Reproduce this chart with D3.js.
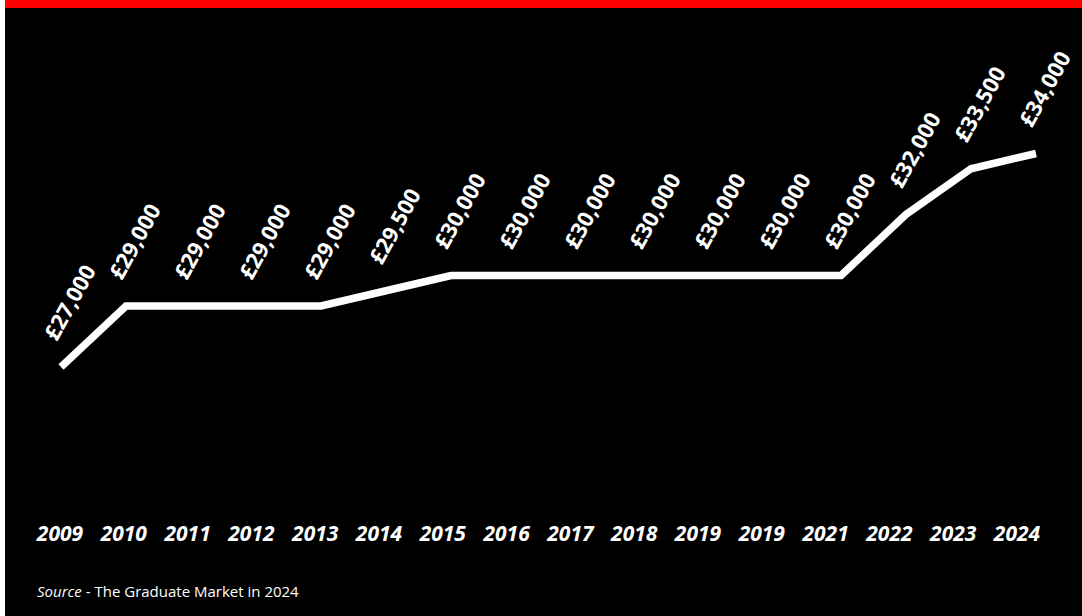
<!DOCTYPE html>
<html>
<head>
<meta charset="utf-8">
<script src="https://cdn.jsdelivr.net/npm/d3@7"></script>
<style>
  html, body { margin: 0; padding: 0; background: #ffffff; }
  svg { display: block; }
</style>
</head>
<body>
<svg id="chart" width="1082" height="616"></svg>
<script>
// Graduate starting salaries by year
const years = ["2009", "2010", "2011", "2012", "2013", "2014", "2015", "2016",
               "2017", "2018", "2019", "2019", "2021", "2022", "2023", "2024"];
const salaries = [27000, 29000, 29000, 29000, 29000, 29500, 30000, 30000,
                  30000, 30000, 30000, 30000, 30000, 32000, 33500, 34000];
const salaryLabels = ["£27,000", "£29,000", "£29,000", "£29,000", "£29,000", "£29,500",
                      "£30,000", "£30,000", "£30,000", "£30,000", "£30,000", "£30,000",
                      "£30,000", "£32,000", "£33,500", "£34,000"];
const sourceTitle = "Source";
const sourceText = " - The Graduate Market in 2024";

const W = 1082, H = 616;
const svg = d3.select("#chart");
const font = "'Open Sans', 'Noto Sans', sans-serif";

// page frame: black panel with a red band along the top
svg.append("rect").attr("x", 0).attr("y", 0).attr("width", W).attr("height", H).attr("fill", "#ffffff");
svg.append("rect").attr("x", 5).attr("y", 0).attr("width", W - 5).attr("height", H).attr("fill", "#000000");
svg.append("rect").attr("x", 5).attr("y", 0).attr("width", W - 5).attr("height", 8).attr("fill", "#ff0000");

const idx = d3.range(years.length);

// scales
const x = d3.scalePoint().domain(idx).range([61, 1036]);
const xAxisPos = d3.scalePoint().domain(idx).range([60, 1017]);
const y = d3.scaleLinear().domain([27000, 34000]).range([367, 153.5]);

// salary line
const line = d3.line()
  .x(i => x(i))
  .y(i => y(salaries[i]));

svg.append("path")
  .datum(idx)
  .attr("d", line)
  .attr("fill", "none")
  .attr("stroke", "#ffffff")
  .attr("stroke-width", 7.5)
  .attr("stroke-linejoin", "miter")
  .attr("stroke-linecap", "butt");

// value labels, rotated above each point
svg.append("g")
  .selectAll("text")
  .data(idx)
  .join("text")
  .attr("transform", i => `translate(${x(i) - 4},${y(salaries[i]) - 25}) rotate(-61)`)
  .attr("font-family", font)
  .attr("font-weight", 700)
  .attr("font-size", 22)
  .attr("fill", "#ffffff")
  .text(i => salaryLabels[i]);

// year labels
svg.append("g")
  .selectAll("text")
  .data(idx)
  .join("text")
  .attr("x", i => xAxisPos(i))
  .attr("y", 541)
  .attr("text-anchor", "middle")
  .attr("font-family", font)
  .attr("font-weight", 700)
  .attr("font-style", "italic")
  .attr("font-size", 21)
  .attr("fill", "#ffffff")
  .text(i => years[i]);

// source note
const src = svg.append("text")
  .attr("x", 37)
  .attr("y", 597)
  .attr("font-family", font)
  .attr("font-size", 15)
  .attr("fill", "#ffffff");
src.append("tspan").attr("font-style", "italic").text(sourceTitle);
src.append("tspan").text(sourceText);
</script>
</body>
</html>
